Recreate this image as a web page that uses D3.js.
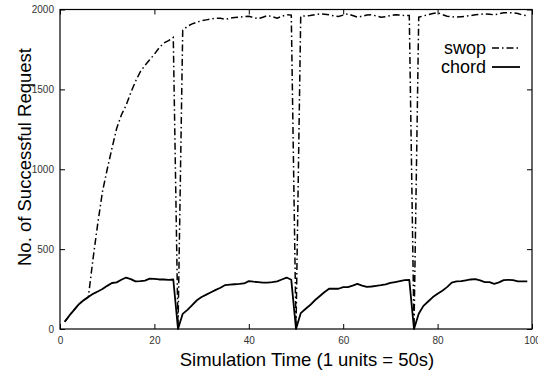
<!DOCTYPE html>
<html>
<head>
<meta charset="utf-8">
<script src="https://cdn.jsdelivr.net/npm/d3@7"></script>
<style>
	body { margin: 0; background: #fff; }
	svg { display: block; font-family: "Liberation Sans", Arial, Helvetica, sans-serif; }
</style>
</head>
<body>
<script>
// simulation step (1 unit = 50s)
var steps = d3.range(1, 100);

var chord = [
	45, 85, 120, 155, 180, 200, 220, 235, 250, 270,
	288, 292, 308, 322, 312, 298, 300, 303, 315, 314,
	310, 310, 308, 310, 0, 95, 120, 150, 180, 200,
	215, 230, 245, 258, 275, 278, 280, 282, 285, 300,
	296, 294, 290, 290, 293, 298, 310, 322, 308, 0,
	99, 125, 150, 180, 205, 230, 252, 252, 252, 262,
	262, 272, 283, 272, 264, 266, 270, 274, 280, 288,
	294, 300, 306, 308, 0, 95, 145, 172, 200, 220,
	240, 262, 290, 298, 300, 305, 310, 312, 304, 294,
	294, 283, 292, 306, 308, 306, 298, 298, 298
];

var swop = [
	45, 85, 120, 155, 180, 200, 440, 660, 860, 1000,
	1130, 1255, 1340, 1400, 1480, 1550, 1610, 1650, 1685, 1720,
	1760, 1790, 1805, 1825, 0, 1870, 1895, 1910, 1920, 1930,
	1935, 1940, 1945, 1945, 1938, 1945, 1950, 1952, 1955, 1958,
	1950, 1942, 1952, 1962, 1955, 1946, 1958, 1967, 1965, 0,
	1958, 1960, 1962, 1968, 1973, 1970, 1967, 1960, 1956, 1965,
	1973, 1962, 1952, 1958, 1965, 1967, 1960, 1952, 1955, 1962,
	1967, 1965, 1962, 1962, 0, 1952, 1960, 1967, 1975, 1980,
	1968, 1958, 1955, 1952, 1955, 1958, 1962, 1967, 1970, 1973,
	1970, 1967, 1973, 1980, 1980, 1980, 1975, 1965, 1962
];

var xTicks = [0, 20, 40, 60, 80, 100];
var yTicks = [0, 500, 1000, 1500, 2000];

var W = 538, H = 373;
var plotL = 60, plotR = 532, plotT = 9.5, plotB = 329;

var svg = d3.select('body')
	.append('svg')
	.attr('width', W)
	.attr('height', H);

var x = d3.scaleLinear().domain([0, 100]).range([plotL, plotR]);
var y = d3.scaleLinear().domain([0, 2000]).range([plotB, plotT]);

// frame
svg.append('rect')
	.attr('x', plotL)
	.attr('y', plotT)
	.attr('width', plotR - plotL)
	.attr('height', plotB - plotT)
	.attr('fill', 'none')
	.attr('stroke', '#000')
	.attr('stroke-width', 1.2);

// axes, ticks pointing inward, mirrored on top/right
function styleAxis(g) {
	g.select('.domain').remove();
	g.selectAll('.tick line').attr('stroke', '#000');
	g.selectAll('.tick text')
		.attr('fill', '#333')
		.style('font-size', '10px')
		.style('font-family', '"Liberation Sans", Arial, sans-serif');
}

svg.append('g')
	.attr('transform', 'translate(0,' + plotB + ')')
	.call(d3.axisBottom(x).tickValues(xTicks).tickSize(-5).tickPadding(8).tickFormat(d3.format('d')))
	.call(styleAxis);

svg.append('g')
	.attr('transform', 'translate(0,' + plotT + ')')
	.call(d3.axisTop(x).tickValues(xTicks).tickSize(-5).tickFormat(''))
	.call(styleAxis);

svg.append('g')
	.attr('transform', 'translate(' + plotL + ',0)')
	.call(d3.axisLeft(y).tickValues(yTicks).tickSize(-5).tickPadding(6).tickFormat(d3.format('d')))
	.call(styleAxis);

svg.append('g')
	.attr('transform', 'translate(' + plotR + ',0)')
	.call(d3.axisRight(y).tickValues(yTicks).tickSize(-5).tickFormat(''))
	.call(styleAxis);

// series
var line = function(values) {
	return d3.line()
		.x(function(d, i) { return x(steps[i]); })
		.y(function(d) { return y(d); })(values);
};

svg.append('path')
	.attr('d', line(swop))
	.attr('fill', 'none')
	.attr('stroke', '#000')
	.attr('stroke-width', 1.5)
	.attr('stroke-dasharray', '7,3,1.5,3');

svg.append('path')
	.attr('d', line(chord))
	.attr('fill', 'none')
	.attr('stroke', '#000')
	.attr('stroke-width', 1.8)
	.attr('stroke-linejoin', 'round');

// legend
var legend = [
	{label: 'swop', dash: '7,3,1.5,3', w: 1.5},
	{label: 'chord', dash: null, w: 1.8}
];

var lg = svg.selectAll('g.legend')
	.data(legend)
	.enter()
	.append('g')
	.attr('transform', function(d, i) { return 'translate(0,' + (48 + i * 19) + ')'; });

lg.append('text')
	.attr('x', 486)
	.attr('y', 6)
	.attr('text-anchor', 'end')
	.style('font-size', '18px')
	.text(function(d) { return d.label; });

lg.append('line')
	.attr('x1', 492)
	.attr('x2', 520)
	.attr('y1', 0)
	.attr('y2', 0)
	.attr('stroke', '#000')
	.attr('stroke-width', function(d) { return d.w; })
	.attr('stroke-dasharray', function(d) { return d.dash; });

// axis titles
svg.append('text')
	.attr('x', 307)
	.attr('y', 366)
	.attr('text-anchor', 'middle')
	.style('font-size', '18.5px')
	.text('Simulation Time (1 units = 50s)');

svg.append('text')
	.attr('transform', 'translate(31,157) rotate(-90)')
	.attr('text-anchor', 'middle')
	.style('font-size', '18.5px')
	.text('No. of Successful Request');
</script>
</body>
</html>
